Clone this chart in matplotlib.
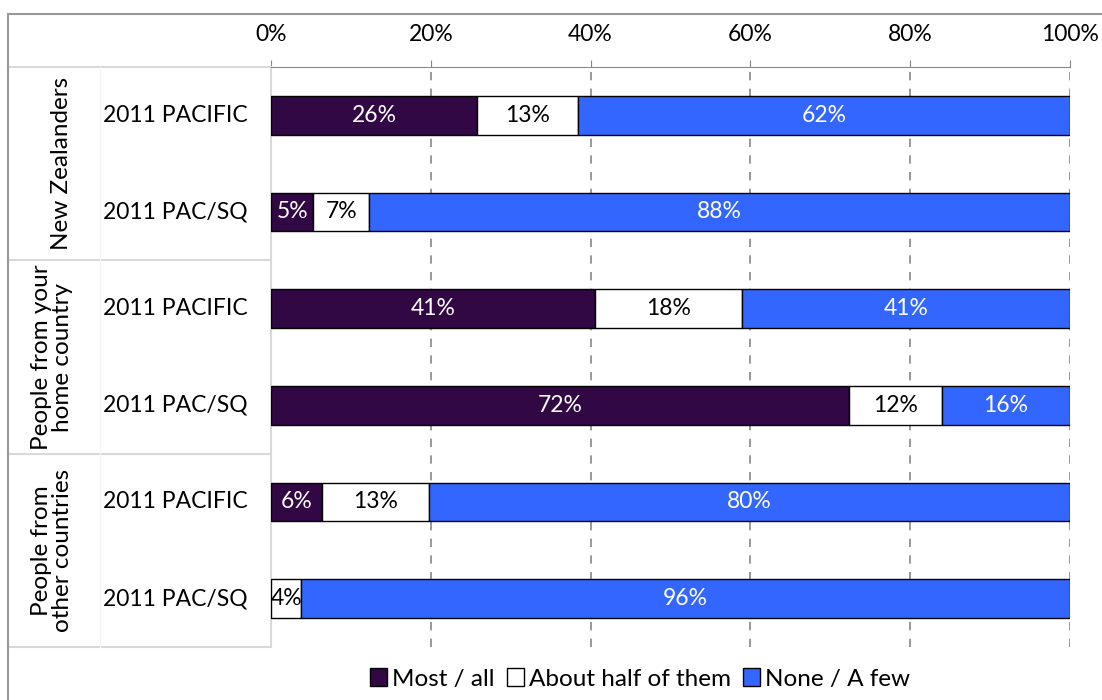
import matplotlib
import matplotlib.pyplot as plt
import matplotlib.transforms as mtransforms
from matplotlib.lines import Line2D
from matplotlib.patches import Rectangle
import numpy as np

matplotlib.use("Agg")

plt.rcParams["font.family"] = ["Lato", "DejaVu Sans"]

GROUPS = ["New Zealanders", "People from your\nhome country", "People from\nother countries"]
CATEGORIES = ["2011 PACIFIC", "2011 PAC/SQ"] * 3
SERIES = ["Most / all", "About half of them", "None / A few"]
MOST_ALL = [25.8, 5.3, 40.6, 72.3, 6.4, 0.0]
ABOUT_HALF = [12.6, 7.0, 18.3, 11.7, 13.4, 3.8]
NONE_FEW = [61.6, 87.7, 41.1, 16.0, 80.2, 96.2]
COLORS = ["#310744", "#ffffff", "#3366ff"]
TEXT_COLORS = ["white", "black", "white"]

W, H = 1102, 700
fig = plt.figure(figsize=(W / 100, H / 100), dpi=100)
ax = fig.add_axes([271 / W, 1 - 647 / H, 799 / W, 580 / H])

y = np.arange(len(CATEGORIES))
left = np.zeros(len(CATEGORIES))
for name, vals, color, tcol in zip(SERIES, [MOST_ALL, ABOUT_HALF, NONE_FEW], COLORS, TEXT_COLORS):
    vals = np.array(vals)
    ax.barh(y, vals, left=left, height=0.4, color=color, edgecolor="black",
            linewidth=1.0, label=name, zorder=3)
    for yi, l, v in zip(y, left, vals):
        if v > 0:
            ax.text(l + v / 2, yi, f"{v:.0f}%", ha="center", va="center",
                    color=tcol, fontsize=16.5, zorder=4)
    left += vals

ax.set_xlim(0, 100)
ax.set_ylim(len(CATEGORIES) - 0.5, -0.5)
ax.xaxis.tick_top()
ax.set_xticks(np.arange(0, 101, 20))
ax.set_xticklabels([f"{t}%" for t in range(0, 101, 20)], fontsize=16.5)
ax.tick_params(axis="x", length=5, color="#888888", pad=11)
ax.set_yticks([])
ax.grid(axis="x", color="#888888", linestyle=(0, (5, 5)), linewidth=1.2, zorder=0)
for side in ["right", "bottom", "left"]:
    ax.spines[side].set_visible(False)
ax.spines["top"].set_color("#888888")

# category and group labels in the left-hand table
trans = mtransforms.blended_transform_factory(ax.transAxes, ax.transData)
px = lambda p: (p - 271) / 799
for yi, cat in zip(y, CATEGORIES):
    ax.text(px(175), yi, cat, transform=trans, ha="center", va="center", fontsize=16.5)
for gi, grp in enumerate(GROUPS):
    xpos = px(62) if "\n" not in grp else px(52)
    ax.text(xpos, 2 * gi + 0.5, grp, transform=trans, ha="center", va="center",
            rotation=90, fontsize=17.5, linespacing=1.0)

table_kw = dict(transform=trans, color="#d9d9d9", linewidth=1.5, clip_on=False)
for b in [-0.5, 1.5, 3.5, 5.5]:
    ax.add_line(Line2D([px(8), 0], [b, b], **table_kw))
ax.add_line(Line2D([0, 0], [-0.5, 5.5], **table_kw))
ax.add_line(Line2D([px(100), px(100)], [-0.5, 5.5], color="#f5f5f5", linewidth=1.0,
                   transform=trans, clip_on=False))

# outer chart border
fig.add_artist(Rectangle((8 / W, -0.05), 1.1, 1 - 14 / H + 0.05, transform=fig.transFigure,
                         fill=False, edgecolor="#999999", linewidth=1.5))

ax.legend(loc="center", bbox_to_anchor=(640 / W, 1 - 679 / H), bbox_transform=fig.transFigure,
          ncol=3, frameon=False, fontsize=17.5, handlelength=0.7, handleheight=0.7,
          handletextpad=0.2, columnspacing=0.5)

fig.savefig("out.png", dpi=100)
